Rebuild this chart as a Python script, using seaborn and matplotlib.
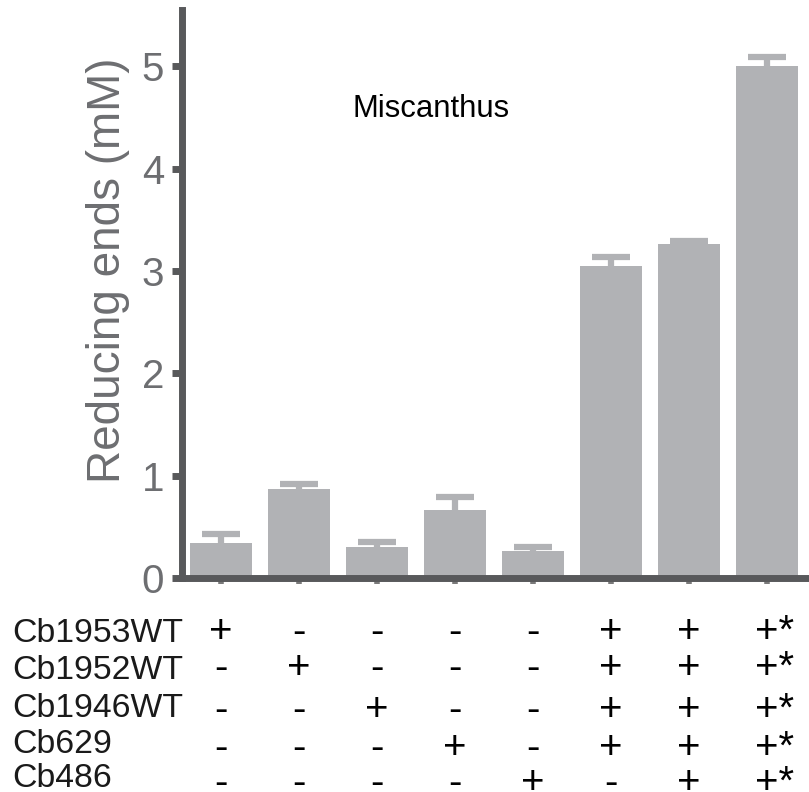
import numpy as np
import pandas as pd
import seaborn as sns
import matplotlib
matplotlib.use("Agg")
from matplotlib import pyplot as plt
from matplotlib import transforms

# Reducing ends released from Miscanthus by enzyme combinations
lanes = ["1", "2", "3", "4", "5", "6", "7", "8"]
means = [0.34, 0.87, 0.30, 0.66, 0.26, 3.05, 3.26, 5.00]
errs = [0.09, 0.05, 0.05, 0.13, 0.04, 0.09, 0.03, 0.09]

enzymes = ["Cb1953WT", "Cb1952WT", "Cb1946WT", "Cb629", "Cb486"]
cb1953 = ["+", "-", "-", "-", "-", "+", "+", "+"]
cb1952 = ["-", "+", "-", "-", "-", "+", "+", "+"]
cb1946 = ["-", "-", "+", "-", "-", "+", "+", "+"]
cb629 = ["-", "-", "-", "+", "-", "+", "+", "+"]
cb486 = ["-", "-", "-", "-", "+", "-", "+", "+"]
starred = [False, False, False, False, False, False, False, True]

bar_color = "#b1b2b5"
axis_color = "#58595b"
text_gray = "#6d6e71"

sns.set_style("ticks")
plt.rcParams["font.family"] = ["Liberation Sans", "DejaVu Sans"]

df = pd.DataFrame({"lane": lanes, "mean": means})

fig = plt.figure(figsize=(8.09, 7.92), dpi=100)
H = 792.0
ax = fig.add_axes([182 / 809, 1 - 578 / H, 1 - 182 / 809, 568 / H])

sns.barplot(data=df, x="lane", y="mean", color=bar_color, width=0.8,
            errorbar=None, linewidth=0, saturation=1, ax=ax)

eb = ax.errorbar(np.arange(len(lanes)), means,
                 yerr=[np.zeros(len(errs)), errs], fmt="none",
                 ecolor=bar_color, elinewidth=4.5, capsize=13.5, capthick=4.5)
eb.lines[1][0].set_visible(False)  # only the upper cap

ax.set_xlim(-0.5, 7.54)
ax.set_ylim(0, 5.55)
ax.set_yticks([0, 1, 2, 3, 4, 5])
ax.set_xticks(range(len(lanes)))
ax.set_xticklabels([])
ax.set_xlabel("")

for side in ["top", "right"]:
    ax.spines[side].set_visible(False)
for side in ["left", "bottom"]:
    ax.spines[side].set_linewidth(5)
    ax.spines[side].set_color(axis_color)

ax.tick_params(axis="y", length=7, width=5, color=axis_color, pad=6,
               labelsize=29, labelcolor=text_gray)
ax.tick_params(axis="x", length=4.5, width=4, color="#7a7a7a", labelbottom=False)

ax.set_ylabel("Reducing ends (mM)", fontsize=33, color=text_gray)
ax.yaxis.set_label_coords(-0.083, 0.542)

ax.text(1.69, 4.5, "Miscanthus", fontsize=22.3, color="black", va="baseline")

# enzyme table below the axis
tf = transforms.blended_transform_factory(ax.transData, fig.transFigure)
star_tf = transforms.offset_copy(tf, fig=fig, x=-12, y=0, units="dots")
rows = [cb1953, cb1952, cb1946, cb629, cb486]
label_base = [642, 679, 717, 753, 787]
sign_mid = [632, 668, 710, 748, 783]
for name, row, yb, ys in zip(enzymes, rows, label_base, sign_mid):
    fig.text(12 / 809, 1 - yb / H, name, fontsize=24.3, color="#1a1a1a",
             va="baseline", ha="left")
    for i, s in enumerate(row):
        if starred[i]:
            ax.text(i, 1 - ys / H, s + "*", transform=star_tf, fontsize=29,
                    color="black", ha="left", va="center", clip_on=False)
        else:
            ax.text(i, 1 - ys / H, s, transform=tf, fontsize=29, color="black",
                    ha="center", va="center", clip_on=False)

fig.savefig("out.png", dpi=100)
